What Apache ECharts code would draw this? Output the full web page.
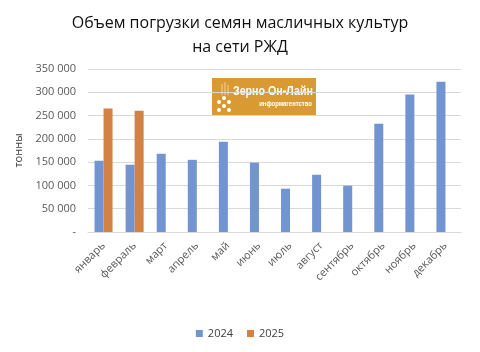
<!DOCTYPE html>
<html>
<head>
<meta charset="utf-8">
<script src="https://cdn.jsdelivr.net/npm/echarts@6/dist/echarts.min.js"></script>
<style>
  html, body { margin: 0; padding: 0; background: #fff; }
  #chart { width: 480px; height: 352px; }
</style>
</head>
<body>
<div id="chart"></div>
<script>
  // месяцы и объемы погрузки, тонны
  var months = ["январь", "февраль", "март", "апрель", "май", "июнь", "июль", "август", "сентябрь", "октябрь", "ноябрь", "декабрь"];
  var data2024 = [153000, 144500, 168000, 155000, 194000, 149000, 93000, 123000, 99500, 232500, 295000, 322500];
  var data2025 = [265000, 260500, null, null, null, null, null, null, null, null, null, null];
  var seriesNames = ["2024", "2025"];

  var font = "'Open Sans', 'Noto Sans', sans-serif";
  var logoFont = "'Liberation Sans', Arial, sans-serif";
  var chart = echarts.init(document.getElementById("chart"));

  var option = {
    animation: false,
    color: ["#7294D0", "#D38246"],
    title: {
      text: "Объем погрузки семян масличных культур\nна сети РЖД",
      left: "center",
      top: 6,
      textStyle: {
        fontFamily: font,
        fontSize: 16,
        fontWeight: "normal",
        color: "#111",
        lineHeight: 24,
      },
    },
    legend: {
      data: seriesNames,
      bottom: 8,
      left: "center",
      itemWidth: 7,
      itemHeight: 7,
      itemGap: 14,
      icon: "rect",
      textStyle: { fontFamily: font, fontSize: 11, color: "#404040" },
    },
    grid: {
      left: 88,
      right: 19,
      top: 69,
      bottom: 120,
    },
    xAxis: {
      type: "category",
      data: months,
      axisTick: { show: false },
      axisLine: { lineStyle: { color: "#d9d9d9" } },
      axisLabel: {
        rotate: 45,
        interval: 0,
        margin: 12,
        fontFamily: font,
        fontSize: 11,
        color: "#595959",
      },
    },
    yAxis: {
      type: "value",
      min: 0,
      max: 350000,
      interval: 50000,
      name: "тонны",
      nameLocation: "middle",
      nameGap: 56,
      nameTextStyle: { fontFamily: font, fontSize: 11, color: "#404040" },
      axisLine: { show: false },
      axisTick: { show: false },
      splitLine: { lineStyle: { color: "#d9d9d9" } },
      axisLabel: {
        fontFamily: font,
        fontSize: 11,
        color: "#595959",
        margin: 12,
        formatter: function (v) {
          if (v === 0) return "-";
          return String(v).replace(/\B(?=(\d{3})+(?!\d))/g, " ");
        },
      },
    },
    series: [
      {
        name: seriesNames[0],
        type: "bar",
        data: data2024,
        barGap: "0%",
        barCategoryGap: "42%",
      },
      {
        name: seriesNames[1],
        type: "bar",
        data: data2025,
        barGap: "0%",
        barCategoryGap: "42%",
      },
    ],
    graphic: [
      {
        type: "group",
        left: 212,
        top: 78,
        children: [
          {
            type: "rect",
            shape: { x: 0, y: 0, width: 104, height: 37 },
            style: { fill: "#D99A33" },
          },
          // упрощенный значок: колос из точек
          { type: "circle", shape: { cx: 7, cy: 24, r: 2 }, style: { fill: "#fff" } },
          { type: "circle", shape: { cx: 12, cy: 20, r: 2 }, style: { fill: "#fff" } },
          { type: "circle", shape: { cx: 12, cy: 28, r: 2 }, style: { fill: "#fff" } },
          { type: "circle", shape: { cx: 17, cy: 24, r: 2 }, style: { fill: "#fff" } },
          { type: "circle", shape: { cx: 7, cy: 32, r: 2 }, style: { fill: "#fff" } },
          { type: "circle", shape: { cx: 17, cy: 32, r: 2 }, style: { fill: "#fff" } },
          { type: "line", shape: { x1: 10, y1: 6, x2: 10, y2: 17 }, style: { stroke: "#F3D39A", lineWidth: 1 } },
          { type: "line", shape: { x1: 13, y1: 4, x2: 13, y2: 17 }, style: { stroke: "#F3D39A", lineWidth: 1 } },
          { type: "line", shape: { x1: 16, y1: 7, x2: 16, y2: 17 }, style: { stroke: "#F3D39A", lineWidth: 1 } },
          {
            type: "text",
            x: 21,
            y: 7,
            scaleX: 0.82,
            style: {
              text: "Зерно Он-Лайн",
              fill: "#fff",
              font: "bold 13px " + logoFont,
            },
          },
          {
            type: "text",
            x: 100,
            y: 23,
            scaleX: 0.85,
            style: {
              text: "информагентство",
              fill: "#fff",
              align: "right",
              font: "bold 7px " + logoFont,
            },
          },
        ],
      },
    ],
  };

  chart.setOption(option);
</script>
</body>
</html>
